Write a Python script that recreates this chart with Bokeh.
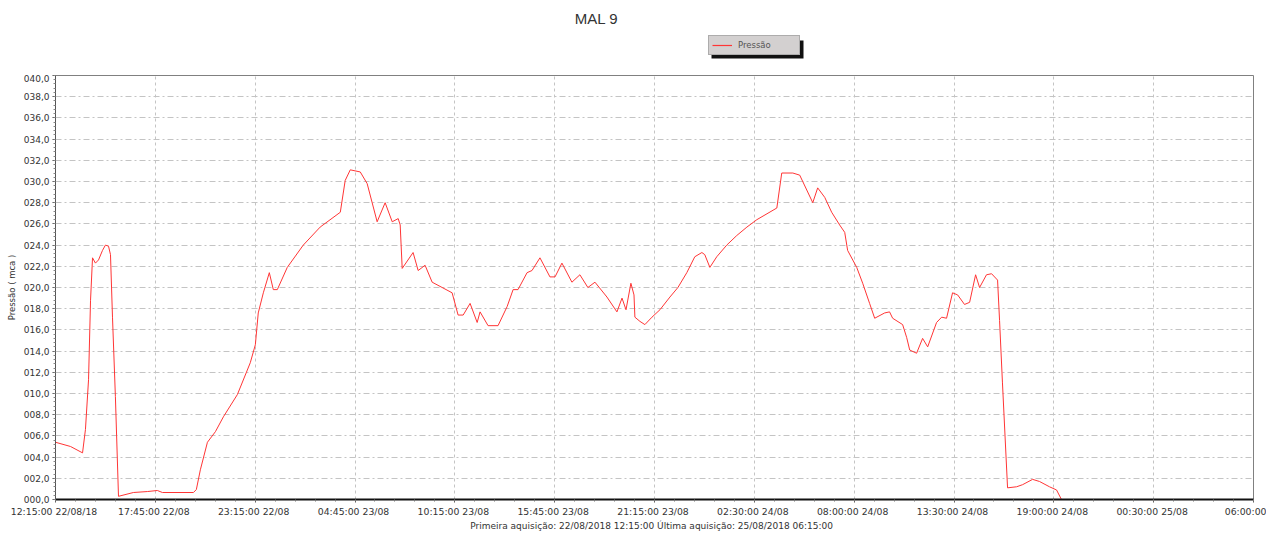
from bokeh.plotting import figure
from bokeh.layouts import column
from bokeh.models import (Range1d, FixedTicker, Legend, LegendItem, Label,
                          BoxAnnotation)
from bokeh.embed import file_html
from bokeh.resources import INLINE

# ---- data (hours since first acquisition 22/08/2018 12:15, pressure in mca)
hours = [0.00, 0.83, 1.49, 1.65, 1.82, 1.93, 2.04, 2.20, 2.37, 2.59, 2.75, 2.92,
         3.03, 3.14, 3.30, 3.47, 4.29, 5.06, 5.61, 5.89, 7.60, 7.76, 7.98, 8.37,
         8.81, 9.25, 10.02, 10.73, 11.01, 11.17, 11.45, 11.78, 12.00, 12.22,
         12.77, 13.65, 14.58, 15.69, 15.96, 16.24, 16.79, 17.17, 17.72, 18.16,
         18.55, 18.88, 18.99, 19.10, 19.70, 19.98, 20.36, 20.75, 21.85, 22.18,
         22.46, 22.84, 23.23, 23.39, 23.83, 24.38, 24.88, 25.21, 25.48, 25.98,
         26.25, 26.69, 27.24, 27.52, 27.90, 28.45, 28.89, 29.33, 29.72, 30.38,
         30.93, 31.21, 31.43, 31.70, 31.87, 31.92, 32.20, 32.47, 32.86, 33.30,
         33.85, 34.29, 34.78, 35.22, 35.61, 35.77, 36.05, 36.43, 36.98, 37.53,
         38.09, 38.64, 39.74, 40.01, 40.62, 41.00, 41.72, 41.99, 42.38, 42.76,
         43.20, 43.48, 43.64, 44.14, 44.47, 44.85, 45.13, 45.68, 45.95, 46.12,
         46.67, 46.89, 47.06, 47.44, 47.77, 48.05, 48.54, 48.82, 49.09, 49.42,
         49.70, 50.08, 50.36, 50.69, 50.91, 51.29, 51.57, 51.90, 52.01, 52.17,
         52.45, 52.95, 53.28, 53.83, 54.21, 54.76, 55.15, 55.42]
pressao = [5.4, 5.0, 4.4, 6.6, 11.3, 18.8, 22.8, 22.3, 22.6, 23.5, 24.0, 23.9,
           23.1, 17.2, 9.7, 0.3, 0.66, 0.75, 0.85, 0.66, 0.66, 0.94, 2.8, 5.4,
           6.4, 7.8, 9.9, 12.9, 14.6, 17.6, 19.5, 21.4, 19.8, 19.8,
           21.9, 24.0, 25.7, 27.1, 30.1, 31.1, 30.9, 29.8, 26.2, 28.0,
           26.2, 26.5, 25.9, 21.8, 23.3, 21.6, 22.1, 20.5, 19.5, 17.4,
           17.4, 18.5, 16.7, 17.7, 16.4, 16.4, 18.2, 19.8, 19.8, 21.4,
           21.6, 22.8, 21.0, 21.0, 22.3, 20.5, 21.2, 20.0, 20.5, 19.1,
           17.7, 19.0, 17.9, 20.4, 19.3, 17.2, 16.8, 16.5, 17.2, 17.9,
           19.1, 20.0, 21.4, 22.9, 23.3, 23.1, 21.9, 22.9, 24.0, 24.9,
           25.7, 26.4, 27.5, 30.8, 30.8, 30.6, 28.0, 29.4, 28.5, 27.1,
           25.9, 25.2, 23.5, 21.9, 20.4, 18.5, 17.1, 17.6, 17.7, 17.1,
           16.5, 15.3, 14.1, 13.8, 15.2, 14.4, 16.7, 17.2, 17.1, 19.5,
           19.3, 18.4, 18.6, 21.2, 20.0, 21.2, 21.3, 20.7, 16.9, 11.0,
           1.1, 1.2, 1.4, 1.9, 1.7, 1.2, 0.9, 0.0]

tick_hours = [0, 5.5, 11, 16.5, 22, 27.5, 33, 38.5, 44, 49.5, 55, 60.5, 66]
tick_labels = ["12:15:00  22/08/18", "17:45:00  22/08", "23:15:00  22/08",
               "04:45:00  23/08", "10:15:00  23/08", "15:45:00  23/08",
               "21:15:00  23/08", "02:30:00  24/08", "08:00:00  24/08",
               "13:30:00  24/08", "19:00:00  24/08", "00:30:00  25/08",
               "06:00:00"]
y_ticks = [0, 2, 4, 6, 8, 10, 12, 14, 16, 18, 20, 22, 24, 26, 28, 30, 32, 34, 36, 38, 40]
y_labels = ["000,0", "002,0", "004,0", "006,0", "008,0", "010,0", "012,0",
            "014,0", "016,0", "018,0", "020,0", "022,0", "024,0", "026,0",
            "028,0", "030,0", "032,0", "034,0", "036,0", "038,0", "040,0"]

title_text = "MAL 9"
series_name = "Pressão"
y_title = "Pressão ( mca )"
footer = "Primeira aquisição: 22/08/2018 12:15:00   Última aquisição: 25/08/2018 06:15:00"

FONT = "DejaVu Sans"
LINE_COLOR = "#ff3535"

# ---------------- header strip (title + legend) ----------------
# its frame is aligned with the chart frame (x 55..1253), so the range is set in
# page pixels
top = figure(width=1266, height=74, x_range=Range1d(55, 1253), y_range=Range1d(0, 74),
             x_axis_type=None, y_axis_type=None, output_backend="svg",
             toolbar_location=None, min_border=0)
top.outline_line_color = None
top.grid.visible = False
top.background_fill_color = "white"
top.border_fill_color = "white"

top.add_layout(Label(x=596, y=56, text=title_text, text_align="center",
                     text_baseline="middle", text_font="Liberation Sans",
                     text_font_size="15px", text_color="#333333"))

# invisible proxy (outside the visible range) that gives the legend its glyph
proxy = top.line([0, 1], [0, 0], line_color=LINE_COLOR, line_width=1.2)
top.add_layout(BoxAnnotation(left=711, right=803, bottom=16, top=34,
                             fill_color="#111111", fill_alpha=1.0, line_alpha=0))
legend = Legend(items=[LegendItem(label=series_name, renderers=[proxy])],
                location=(653, 19), margin=0, padding=3, spacing=0,
                glyph_width=20, glyph_height=12, label_height=12,
                label_width=58, label_standoff=6,
                label_text_font=FONT, label_text_font_size="8.5px",
                label_text_color="#555555",
                background_fill_color="#d3d0d0", background_fill_alpha=1.0,
                border_line_color="#888888", border_line_width=1)
top.add_layout(legend)

# ---------------- main chart ----------------
p = figure(width=1266, height=459, x_range=Range1d(0, 66), y_range=Range1d(0, 40),
           output_backend="svg", toolbar_location=None,
           min_border_left=55, min_border_right=13, min_border_top=1,
           min_border_bottom=33)
p.background_fill_color = "white"
p.border_fill_color = "white"
p.outline_line_color = "#808080"
p.outline_line_width = 1

p.line(hours, pressao, line_color=LINE_COLOR, line_width=1)

# x axis
xa = p.xaxis[0]
minor_x = [i * 1.1 for i in range(61)]
xa.ticker = FixedTicker(ticks=tick_hours, minor_ticks=minor_x)
xa.major_label_overrides = {t: l for t, l in zip(tick_hours, tick_labels)}
xa.major_label_text_font = FONT
xa.major_label_text_font_size = "9.3px"
xa.major_label_text_color = "#333333"
xa.major_label_standoff = 3
xa.axis_line_color = "#111111"
xa.axis_line_width = 2
xa.major_tick_line_color = "#555555"
xa.major_tick_in = 0
xa.major_tick_out = 3
xa.minor_tick_line_color = "#777777"
xa.minor_tick_in = 0
xa.minor_tick_out = 2
xa.axis_label = footer
xa.axis_label_text_font = FONT
xa.axis_label_text_font_size = "9px"
xa.axis_label_text_font_style = "normal"
xa.axis_label_text_color = "#333333"
xa.axis_label_standoff = 1

# y axis
ya = p.yaxis[0]
minor_y = [i * 0.4 for i in range(101)]
ya.ticker = FixedTicker(ticks=y_ticks, minor_ticks=minor_y)
ya.major_label_overrides = {t: l for t, l in zip(y_ticks, y_labels)}
ya.major_label_text_font = FONT
ya.major_label_text_font_size = "9px"
ya.major_label_text_color = "#333333"
ya.major_label_standoff = 3
ya.axis_line_color = "#555555"
ya.axis_line_width = 1
ya.major_tick_line_color = "#555555"
ya.major_tick_in = 0
ya.major_tick_out = 3
ya.minor_tick_line_color = "#888888"
ya.minor_tick_in = 0
ya.minor_tick_out = 2
ya.axis_label = y_title
ya.axis_label_text_font = FONT
ya.axis_label_text_font_size = "8.5px"
ya.axis_label_text_font_style = "normal"
ya.axis_label_text_color = "#333333"
ya.axis_label_standoff = 4

# grids
p.xgrid.grid_line_color = "#c4c4c4"
p.xgrid.grid_line_dash = "3 3"
p.ygrid.grid_line_color = "#c4c4c4"
p.ygrid.grid_line_dash = "6 3 2 3"

layout = column(top, p, spacing=0)
open("out.html", "w").write(file_html(layout, INLINE))
